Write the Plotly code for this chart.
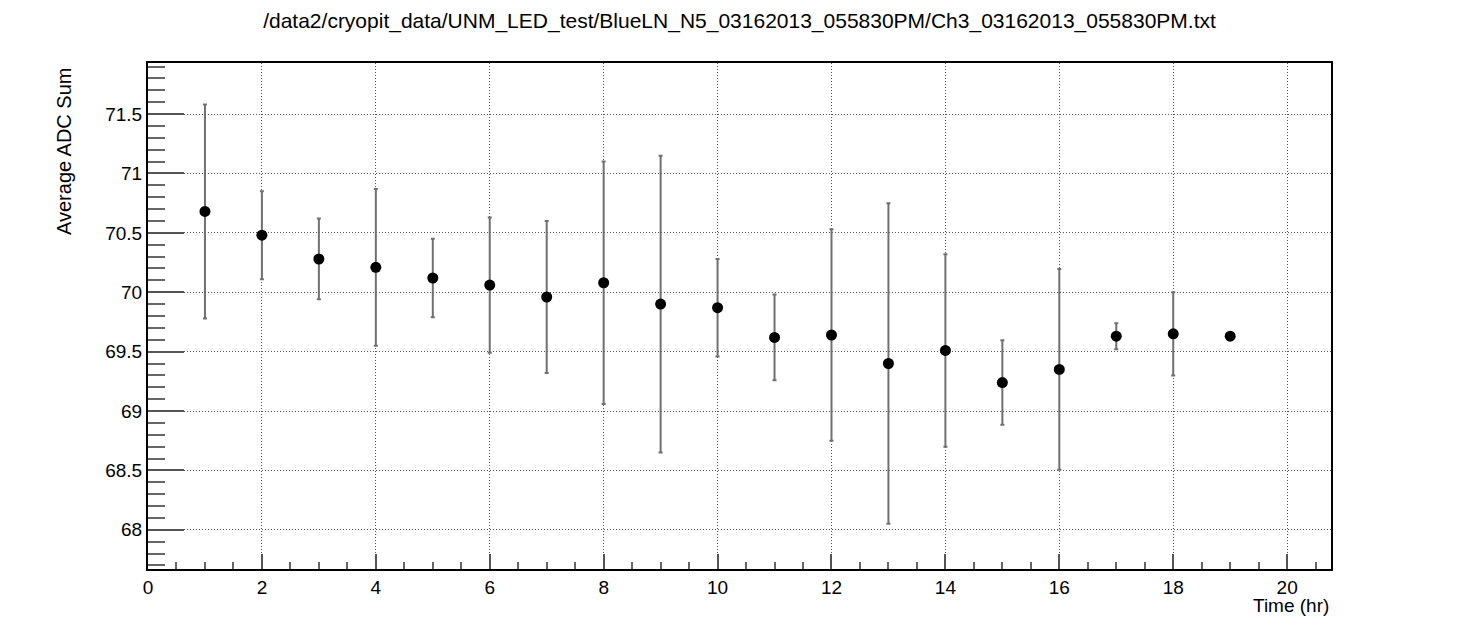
import plotly.graph_objects as go

# hours since start, mean ADC sum and its spread
time_hr = [1, 2, 3, 4, 5, 6, 7, 8, 9, 10, 11, 12, 13, 14, 15, 16, 17, 18, 19]
adc_mean = [70.68, 70.48, 70.28, 70.21, 70.12, 70.06, 69.96, 70.08, 69.90, 69.87,
            69.62, 69.64, 69.40, 69.51, 69.24, 69.35, 69.63, 69.65, 69.63]
adc_err = [0.90, 0.37, 0.34, 0.66, 0.33, 0.57, 0.64, 1.02, 1.25, 0.41,
           0.36, 0.89, 1.35, 0.81, 0.355, 0.845, 0.11, 0.35, 0.0]

title = "/data2/cryopit_data/UNM_LED_test/BlueLN_N5_03162013_055830PM/Ch3_03162013_055830PM.txt"

fig = go.Figure()
fig.add_trace(go.Scatter(
    x=time_hr,
    y=adc_mean,
    mode="markers",
    marker=dict(color="black", size=11),
    error_y=dict(type="data", array=adc_err, visible=True,
                 color="#707070", thickness=2, width=2),
    showlegend=False,
))

axis_common = dict(
    showline=True,
    linecolor="black",
    linewidth=2,
    mirror=True,
    ticks="inside",
    tickcolor="#555555",
    tickwidth=2,
    showgrid=True,
    gridcolor="#555555",
    griddash="1px,2px",
    gridwidth=1,
    zeroline=False,
    automargin=False,
    tickfont=dict(size=19, color="black"),
)

# page body adds ~8px offset, so margins are trimmed to compensate
fig.update_layout(
    width=1481,
    height=633,
    paper_bgcolor="white",
    plot_bgcolor="white",
    font=dict(family="Liberation Sans, Arial, sans-serif", color="black"),
    margin=dict(l=140, r=158, t=55, b=72),
    title=dict(text=title, x=0.5, xref="paper", xanchor="center",
               y=1 - 13 / 633, yref="container", yanchor="middle", automargin=False,
               font=dict(size=21, color="black")),
    xaxis=dict(
        range=[0, 20.77],
        dtick=2,
        tick0=0,
        ticklen=15,
        minor=dict(dtick=0.5, ticklen=7, tickcolor="#666666", showgrid=False, ticks="inside"),
        **axis_common,
    ),
    yaxis=dict(
        range=[67.67, 71.93],
        dtick=0.5,
        tick0=68,
        ticklen=36,
        minor=dict(dtick=0.1, ticklen=17, tickcolor="#666666", showgrid=False, ticks="inside"),
        **axis_common,
    ),
    annotations=[
        dict(text="Time (hr)", xref="paper", yref="paper", x=1, y=0,
             xanchor="right", yanchor="middle", yshift=-36, showarrow=False,
             font=dict(size=19, color="black")),
        dict(text="Average ADC Sum", xref="paper", yref="paper", x=0, y=1,
             xanchor="center", yanchor="bottom", xshift=-84, yshift=-174,
             textangle=-90, showarrow=False,
             font=dict(size=20, color="black")),
    ],
)

fig.write_html("out.html")
